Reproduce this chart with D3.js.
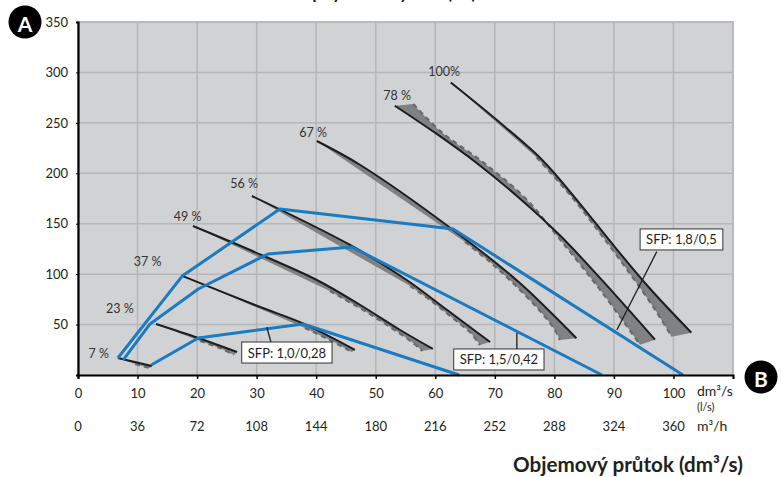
<!DOCTYPE html>
<html><head><meta charset="utf-8">
<script src="https://cdn.jsdelivr.net/npm/d3@7"></script>
<style>
body{margin:0;background:#fff}
text{font-family:Lato,"Open Sans",sans-serif;fill:#231f20}
</style>
</head><body>
<svg id="c" width="781" height="477"></svg>
<script>
// ---------- data ----------
const xTicks = [0,10,20,30,40,50,60,70,80,90,100];
const m3hTicks = [0,36,72,108,144,180,216,252,288,324,360];
const yTicks = [50,100,150,200,250,300,350];
const speedLabels = ["7 %","23 %","37 %","49 %","56 %","67 %","78 %","100%"];
// fan curves (dm3/s, Pa) - black solid
const black7   = [[6.7,16.9],[12.4,8.9]];
const black23  = [[13.1,50.6],[20.2,36.7],[26.7,22.8]];
const black37  = [[17.6,98.1],[30.6,67.4],[37.6,51.6],[46.5,24.8]];
const black49  = [[19.3,147.7],[28.9,123.9],[40.1,94.2],[47.4,69.4],[54.1,44.6],[59.6,25.8]];
const black56  = [[29.2,177.5],[45.7,128.9],[55.2,94.2],[62.0,64.4],[69.2,32.7]];
const black67  = [[40.1,232],[47.4,208.2],[63,143.8],[74.2,91.2],[83.7,36.4]];
const black78  = [[53.2,267],[60,240],[67,210],[74,176],[81,138],[88,94],[96.9,35]];
const black100 = [[62.6,290],[70.5,252],[78,213],[84,172],[90,128],[96,86],[103,42]];
// grey dashed companion curves
const grey7   = [[9.6,10.9],[12.1,6.9]];
const grey23  = [[20.5,33.7],[23.8,26.8],[26.2,19.8]];
const grey37  = [[38.1,46.6],[42.3,34.7],[46.0,22.8]];
const grey49  = [[42.3,83.3],[47.9,64.4],[52.4,47.6],[56.3,31.7],[57.8,23.8]];
const grey56  = [[55.8,88.2],[59.1,74.4],[62.5,58.5],[65.8,42.6],[67.5,29.7]];
const grey67  = [[65.0,131.9],[69.2,112.0],[73.4,89.2],[77.6,63.5],[80.1,44.6],[80.9,34.7]];
const grey78  = [[56.3,268.7],[61,241],[68,211],[75,176],[81,134],[88,82],[94.4,30]];
const grey100 = [[77,216],[83,176],[88,138],[93,98],[97,64],[99.7,38]];
// label anchor (data coords)
const speedLabelPos = [[3.5,21.8],[7.05,66.4],[11.7,113],[18.4,157.6],[27.9,189.4],[39.5,240],[53.6,277.6],[61.5,301.4]];
// SFP lines
const sfpNames = ["SFP: 1,8/0,5","SFP: 1,5/0,42","SFP: 1,0/0,28"];
const sfp18 = [[6.7,16.9],[17.5,98.1],[33.9,164.6],[63.0,144.7],[101.6,0]];
const sfp15 = [[7.6,14.9],[12.1,50.6],[20.2,85.3],[31.9,120],[46.0,126.9],[88.0,0]];
const sfp10 = [[12.3,9.9],[20.2,36.7],[37.8,50.6],[64,0]];
// SFP label box top-left & leader start on line (data coords)
const sfpBox    = [[94.4,144.8],[63.1,25.8],[27.5,32.7]];
const sfpLeader = [[90.5,44.6],[73.7,41.6],[31.7,47.6]];
const sfpLeaderEnd = [[97.2,122.3],[73.7,25.8],[32.4,32.7]];

const blacks = [black7,black23,black37,black49,black56,black67,black78,black100];
const greys  = [grey7,grey23,grey37,grey49,grey56,grey67,grey78,grey100];
const sfps   = [sfp18,sfp15,sfp10];

// ---------- chart ----------
const svg = d3.select("#c");
const L=78, R=733, T=22, B=375;
const x = d3.scaleLinear().domain([0,110]).range([L,R]);
const y = d3.scaleLinear().domain([0,350]).range([B,T]);

svg.append("rect").attr("x",L).attr("y",T).attr("width",R-L).attr("height",B-T)
  .attr("fill","#d1d2d4").attr("stroke","#b9babc").attr("stroke-width",1.5);

// grid
const gx = svg.append("g");
gx.selectAll("line.v").data(d3.range(10,111,10)).join("line")
  .attr("x1",d=>x(d)).attr("x2",d=>x(d)).attr("y1",T).attr("y2",B)
  .attr("stroke","#b5b6b8").attr("stroke-width",1.5);
gx.selectAll("line.h").data(yTicks).join("line")
  .attr("x1",L).attr("x2",R).attr("y1",d=>y(d)).attr("y2",d=>y(d))
  .attr("stroke","#b5b6b8").attr("stroke-width",1.5);

const line = d3.line().x(d=>x(d[0])).y(d=>y(d[1])).curve(d3.curveCatmullRom.alpha(0.5));

// grey bands
blacks.forEach((b,i)=>{
  const g = greys[i];
  const p1 = line(b);
  const p2 = line(g.slice().reverse()).replace(/^M/,"L");
  svg.append("path").attr("d",p1+p2+"Z").attr("fill","#808183").attr("stroke","none");
  svg.append("path").attr("d",line(g)).attr("fill","none")
    .attr("stroke","#68696b").attr("stroke-width",2.2).attr("stroke-dasharray","5,4");
});
// black curves
blacks.forEach(b=>{
  svg.append("path").attr("d",line(b)).attr("fill","none")
    .attr("stroke","#1d1d1b").attr("stroke-width",2);
});
// speed labels
svg.selectAll("text.sp").data(speedLabels).join("text")
  .attr("x",(d,i)=>x(speedLabelPos[i][0])).attr("y",(d,i)=>y(speedLabelPos[i][1]))
  .attr("text-anchor","middle").attr("dominant-baseline","central")
  .attr("font-size",12.5).style("fill","#333").text(d=>d);

// SFP lines
const pl = d3.line().x(d=>x(d[0])).y(d=>y(d[1]));
sfps.forEach(s=>{
  svg.append("path").attr("d",pl(s)).attr("fill","none")
    .attr("stroke","#1b7bc0").attr("stroke-width",3).attr("stroke-linejoin","round");
});

// axes
const yAxis = d3.axisLeft(y).tickValues(yTicks).tickSize(2).tickPadding(8);
const ya = svg.append("g").attr("transform",`translate(${L},0)`).call(yAxis);
ya.select(".domain").attr("stroke","#000").attr("stroke-width",2.2);
ya.selectAll(".tick line").attr("stroke","#000");
ya.selectAll(".tick text").attr("font-size",13).attr("font-family","Lato").style("fill","#231f20");

const xAxis = d3.axisBottom(x).tickValues(xTicks).tickSize(4).tickPadding(10);
const xa = svg.append("g").attr("transform",`translate(0,${B})`).call(xAxis);
xa.select(".domain").attr("stroke","#000").attr("stroke-width",2.2);
xa.selectAll(".tick line").attr("stroke","#000").attr("stroke-width",1.5);
xa.selectAll(".tick text").attr("font-size",13).attr("font-family","Lato").style("fill","#231f20");

// second row m3/h
svg.selectAll("text.m3").data(m3hTicks).join("text")
  .attr("x",(d,i)=>x(xTicks[i])).attr("y",431).attr("text-anchor","middle")
  .attr("font-size",13).text(d=>d);

// units
svg.append("text").attr("x",697).attr("y",396).attr("font-size",14).text("dm³/s");
svg.append("text").attr("x",697).attr("y",411).attr("font-size",11).text("(l/s)");
svg.append("text").attr("x",697).attr("y",431).attr("font-size",14).text("m³/h");

// title
const tt = svg.append("text").attr("x",513).attr("y",472).attr("font-size",18)
  .attr("font-weight","bold").text("Objemový průtok (dm³/s)");
const w = tt.node().getComputedTextLength();
tt.attr("font-size",18*230/w);

// top title (cut off by the frame, as in the source)
svg.append("text").attr("x",370).attr("y",-1).attr("text-anchor","middle")
  .attr("font-size",18).attr("font-weight","bold").text("Dostupný statický tlak (Pa)");

// SFP boxes
const ann = svg.append("g");
sfpNames.forEach((n,i)=>{
  const bx=x(sfpBox[i][0]), by=y(sfpBox[i][1]);
  const lx=x(sfpLeader[i][0]), ly=y(sfpLeader[i][1]);
  const ex=x(sfpLeaderEnd[i][0]), ey=y(sfpLeaderEnd[i][1]);
  ann.append("line").attr("x1",lx).attr("y1",ly).attr("x2",ex).attr("y2",ey)
    .attr("stroke","#1d1d1b").attr("stroke-width",1.3);
  const r = ann.append("rect");
  const t = ann.append("text").attr("x",bx+6).attr("y",by+15.5).attr("font-size",13).text(n);
  const tw = t.node().getComputedTextLength();
  r.attr("x",bx).attr("y",by).attr("width",tw+12).attr("height",21)
    .attr("fill","#fff").attr("stroke","#333").attr("stroke-width",1);
});

// A / B markers
[["A",25,22],["B",761,377]].forEach(([l,cx,cy])=>{
  svg.append("circle").attr("cx",cx).attr("cy",cy).attr("r",16.5).attr("fill","#000");
  svg.append("text").attr("x",cx).attr("y",cy+1).attr("text-anchor","middle")
    .attr("dominant-baseline","central").attr("font-size",21).attr("font-weight","bold")
    .style("fill","#fff").text(l);
});
</script>
</body></html>
